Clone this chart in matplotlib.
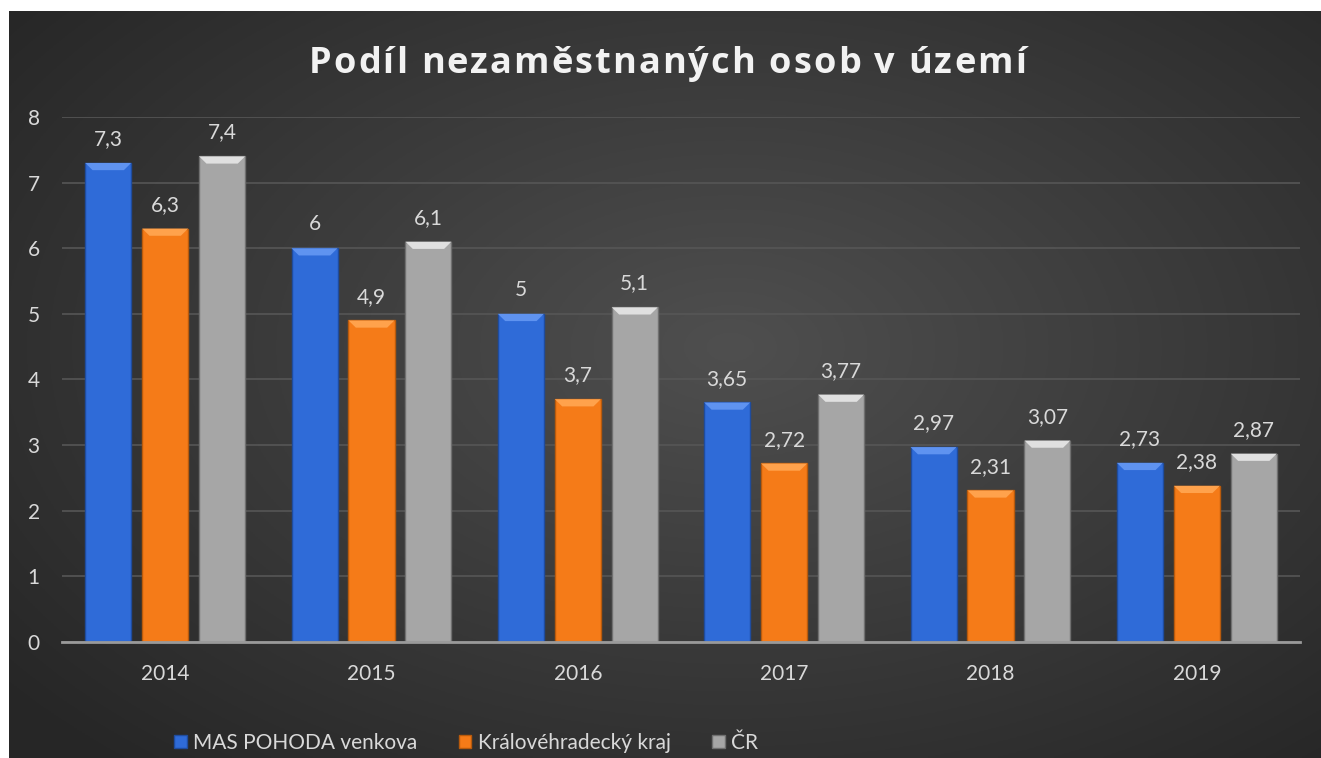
import numpy as np
import matplotlib.pyplot as plt
from matplotlib.patches import Patch, Polygon

years = ['2014', '2015', '2016', '2017', '2018', '2019']
mas = [7.3, 6, 5, 3.65, 2.97, 2.73]
kraj = [6.3, 4.9, 3.7, 2.72, 2.31, 2.38]
cr = [7.4, 6.1, 5.1, 3.77, 3.07, 2.87]
series_names = ['MAS POHODA venkova', 'Královéhradecký kraj', 'ČR']
title = 'Podíl nezaměstnaných osob v území'

# face, top bevel, edge
colors = [('#2f6bd8', '#5f93f0', '#1f4c9e'),
          ('#f57b18', '#ffa24c', '#b85a0c'),
          ('#a6a6a6', '#e0e0e0', '#707070')]

plt.rcParams['font.family'] = ['Lato', 'DejaVu Sans']
txt = '#d9d9d9'
W, H = 1321, 758

fig = plt.figure(figsize=(W / 100, H / 100), dpi=100, facecolor='white')

# dark radial background (white strip on top and left like the source)
bg = fig.add_axes([9 / W, 0, 1 - 9 / W, 1 - 11 / H])
yy, xx = np.mgrid[0:1:300j, 0:1:500j]
r = np.sqrt(((xx - 0.55) / 0.75) ** 2 + ((yy - 0.45) / 0.8) ** 2)
shade = np.clip(0.31 - 0.17 * r, 0.15, 0.31)
bg.imshow(np.dstack([shade] * 3), aspect='auto', extent=[0, 1, 0, 1], origin='upper')
bg.axis('off')

ax = fig.add_axes([62 / W, 1 - 642 / H, (1300 - 62) / W, (642 - 117) / H])
ax.patch.set_alpha(0)

x = np.arange(len(years))
w = 0.223
step = 0.276
handles = []
for i, vals in enumerate([mas, kraj, cr]):
    face, light, edge = colors[i]
    pos = x + (i - 1) * step
    ax.bar(pos, vals, width=w, color=face, edgecolor=edge, linewidth=1, zorder=3)
    for p, v in zip(pos, vals):
        x0, x1 = p - w / 2, p + w / 2
        d = w * 0.16
        bev = Polygon([(x0, v), (x1, v), (x1 - d, v - 0.11), (x0 + d, v - 0.11)],
                      closed=True, facecolor=light, edgecolor='none', zorder=4)
        ax.add_patch(bev)
        ax.text(p, v + 0.21, f'{v:g}'.replace('.', ','), ha='center', va='bottom',
                color=txt, fontsize=15, zorder=5)
    handles.append(Patch(facecolor=face, edgecolor=edge, label=series_names[i]))

ax.set_xlim(-0.5, len(years) - 0.5)
ax.set_ylim(0, 8)
ax.set_yticks(range(0, 9))
ax.set_xticks(x)
ax.set_xticklabels(years)
ax.tick_params(axis='both', length=0, colors=txt, labelsize=15)
ax.tick_params(axis='y', pad=16)
ax.tick_params(axis='x', pad=16)
ax.yaxis.grid(True, color='#565656', linewidth=1.2, zorder=0)
ax.set_axisbelow(True)
for s in ['top', 'right', 'left']:
    ax.spines[s].set_visible(False)
ax.spines['bottom'].set_color('#9a9a9a')
ax.spines['bottom'].set_linewidth(2)
ax.spines['bottom'].set_zorder(6)

# title with letter spacing: place characters one by one
tkw = dict(color='#f2f2f2', fontsize=26, fontweight='bold',
           family=['Open Sans', 'DejaVu Sans'], va='baseline', ha='left')
renderer = fig.canvas.get_renderer()
probe = fig.text(0, 0, title, **tkw)
full_w = probe.get_window_extent(renderer).width
probe.remove()
left_px, right_px = 309, 1026
gap = (right_px - left_px - full_w) / (len(title) - 1)
for k, ch in enumerate(title):
    if k == 0:
        pre = 0
    else:
        t = fig.text(0, 0, title[:k], **tkw)
        pre = t.get_window_extent(renderer).width
        t.remove()
    fig.text((left_px + pre + k * gap) / W, 1 - 73 / H, ch, **tkw)

fig.legend(handles=handles, loc='center', bbox_to_anchor=(466 / W, 1 - 743 / H),
           ncol=3, frameon=False, fontsize=15, labelcolor=txt,
           handlelength=0.6, handleheight=0.6, handletextpad=0.3, columnspacing=2.0)

fig.savefig('out.png', dpi=100, facecolor=fig.get_facecolor())
